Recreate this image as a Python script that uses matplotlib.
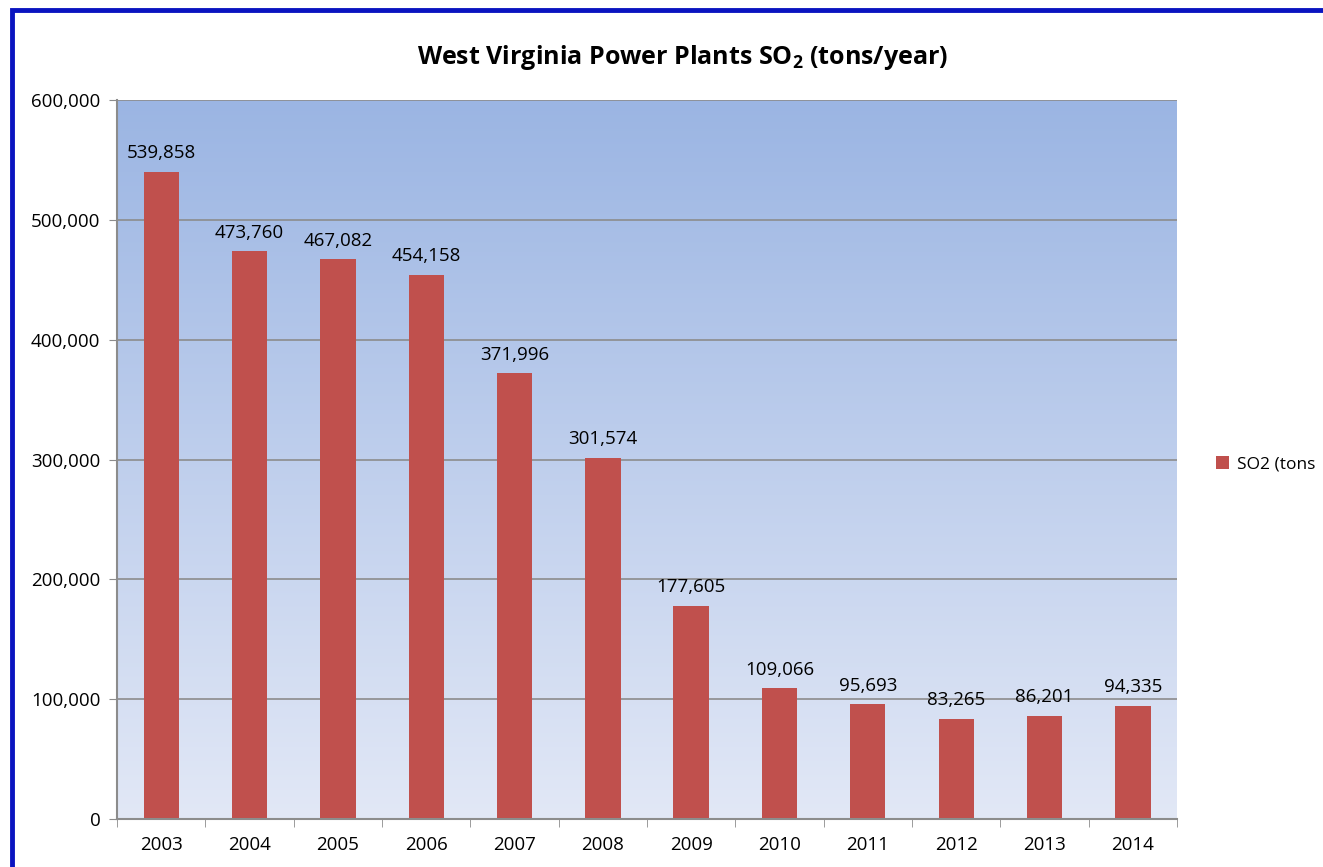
import numpy as np
import matplotlib
matplotlib.use("Agg")
import matplotlib.pyplot as plt
import matplotlib.patches as patches
from matplotlib.ticker import FuncFormatter, MultipleLocator

years = ["2003", "2004", "2005", "2006", "2007", "2008",
         "2009", "2010", "2011", "2012", "2013", "2014"]
so2_tons = [539858, 473760, 467082, 454158, 371996, 301574,
            177605, 109066, 95693, 83265, 86201, 94335]

plt.rcParams['font.family'] = ['Open Sans', 'DejaVu Sans']
plt.rcParams['mathtext.fontset'] = 'custom'
plt.rcParams['mathtext.rm'] = 'Open Sans'
plt.rcParams['mathtext.bf'] = 'Open Sans:bold'

fig = plt.figure(figsize=(13.23, 8.67), dpi=100)
ax = fig.add_axes([117 / 1323, 1 - 819 / 867, (1177 - 117) / 1323, (819 - 100) / 867])

x = np.arange(len(years))
n = len(years)

# gradient background for the plot area
top = np.array([0x9B, 0xB5, 0xE3]) / 255
bot = np.array([0xE2, 0xE8, 0xF6]) / 255
t = np.linspace(0, 1, 256)[:, None]
grad = (top * (1 - t) + bot * t)[:, None, :]
ax.imshow(grad, extent=(-0.5, n - 0.5, 0, 600000), aspect='auto', zorder=0)

ax.set_xlim(-0.5, n - 0.5)
ax.set_ylim(0, 600000)

for yv in range(100000, 600001, 100000):
    ax.axhline(yv, color='#8c8c8c', linewidth=1.2, zorder=1)

ax.bar(x, so2_tons, width=0.4, color='#C0504D', zorder=2, label='SO2 (tons')

for xi, v in zip(x, so2_tons):
    ax.annotate(f"{v:,}", (xi, v), xytext=(0, 7), textcoords='offset points',
                ha='center', va='bottom', fontsize=13.5, color='black')

ax.yaxis.set_major_locator(MultipleLocator(100000))
ax.yaxis.set_major_formatter(FuncFormatter(lambda v, p: f"{int(v):,}"))
ax.set_xticks(x)
ax.set_xticklabels(years)
ax.set_xticks(np.arange(-0.5, n, 1), minor=True)
ax.tick_params(axis='x', which='major', length=0, pad=12, labelsize=13.5)
ax.tick_params(axis='x', which='minor', length=6, color='#8c8c8c', direction='out')
ax.tick_params(axis='y', length=6, color='#8c8c8c', direction='out', labelsize=13.5, pad=6)

for side in ['top', 'right']:
    ax.spines[side].set_visible(False)
ax.spines['left'].set_color('#8c8c8c')
ax.spines['bottom'].set_color('#8c8c8c')
ax.spines['left'].set_linewidth(1.5)
ax.spines['bottom'].set_linewidth(1.5)

fig.text(683 / 1323, 1 - 57 / 867, r"West Virginia Power Plants SO$_\mathbf{2}$ (tons/year)",
         ha='center', va='center', fontsize=18, fontweight='bold')

fig.legend(loc='center left', bbox_to_anchor=(1216 / 1323, 1 - 464 / 867),
           frameon=False, fontsize=12.5, handlelength=0.75, handleheight=0.75,
           handletextpad=0.45, borderpad=0, borderaxespad=0)

# blue frame around the chart
fig.patches.append(patches.Rectangle((12 / 1323, -0.05), 1.1, 1 - 10 / 867 + 0.05,
                                     transform=fig.transFigure, fill=False,
                                     edgecolor='#0A14C0', linewidth=3.5))

fig.savefig("out.png", dpi=100)
